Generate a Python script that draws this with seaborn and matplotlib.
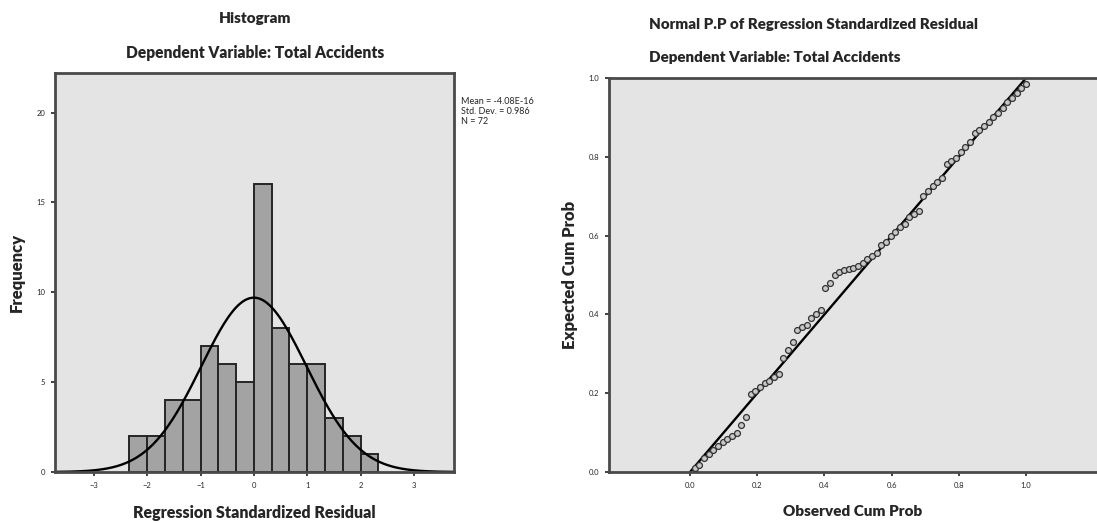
import matplotlib
matplotlib.use("Agg")
import matplotlib.pyplot as plt
import seaborn as sns
import numpy as np

# histogram of regression standardized residuals (bin width 1/3)
bin_edges = [-2.333, -2.0, -1.667, -1.333, -1.0, -0.667, -0.333, 0.0,
             0.333, 0.667, 1.0, 1.333, 1.667, 2.0, 2.333]
bin_counts = [2, 2, 4, 4, 7, 6, 5, 16, 8, 6, 6, 3, 2, 1]
resid_mean = -4.08e-16
resid_sd = 0.986
n_obs = 72

# normal P-P plot points
observed_cum = [0.014, 0.028, 0.042, 0.056, 0.069, 0.083, 0.097, 0.111, 0.125,
                0.139, 0.153, 0.167, 0.181, 0.194, 0.208, 0.222, 0.236, 0.250,
                0.264, 0.278, 0.292, 0.306, 0.319, 0.333, 0.347, 0.361, 0.375,
                0.389, 0.403, 0.417, 0.431, 0.444, 0.458, 0.472, 0.486, 0.500,
                0.514, 0.528, 0.542, 0.556, 0.569, 0.583, 0.597, 0.611, 0.625,
                0.639, 0.653, 0.667, 0.681, 0.694, 0.708, 0.722, 0.736, 0.750,
                0.764, 0.778, 0.792, 0.806, 0.819, 0.833, 0.847, 0.861, 0.875,
                0.889, 0.903, 0.917, 0.931, 0.944, 0.958, 0.972, 0.986, 1.000]
expected_cum = [0.010, 0.018, 0.035, 0.045, 0.055, 0.065, 0.075, 0.085, 0.092,
                0.100, 0.120, 0.140, 0.198, 0.205, 0.215, 0.225, 0.232, 0.240,
                0.250, 0.290, 0.310, 0.330, 0.360, 0.368, 0.372, 0.390, 0.400,
                0.410, 0.468, 0.480, 0.500, 0.508, 0.512, 0.515, 0.518, 0.522,
                0.530, 0.540, 0.548, 0.555, 0.575, 0.585, 0.598, 0.610, 0.622,
                0.630, 0.648, 0.655, 0.662, 0.700, 0.712, 0.725, 0.735, 0.745,
                0.782, 0.790, 0.798, 0.812, 0.825, 0.838, 0.860, 0.868, 0.878,
                0.888, 0.900, 0.912, 0.925, 0.938, 0.950, 0.962, 0.975, 0.985]
ref_line = [0.0, 1.0]

sns.set_theme(style="ticks")
plt.rcParams["font.family"] = ["Lato", "DejaVu Sans"]

fig = plt.figure(figsize=(10.97, 5.23), dpi=100)
ax1 = fig.add_axes([0.0501, 0.0975, 0.3637, 0.7629])
ax2 = fig.add_axes([0.5552, 0.0975, 0.4448, 0.7534])

panel_bg = "#e4e4e4"
spine_col = "#4a4a4a"
bold = dict(fontweight="heavy")

# ---- left: histogram with normal curve
centers = [(a + b) / 2 for a, b in zip(bin_edges[:-1], bin_edges[1:])]
sns.histplot(x=centers, weights=bin_counts, bins=bin_edges, ax=ax1,
             color="#a3a3a3", edgecolor="#252525", linewidth=1.4, alpha=1)

width = bin_edges[1] - bin_edges[0]
xs = np.linspace(-3.75, 3.75, 300)
ys = n_obs * width / (resid_sd * np.sqrt(2 * np.pi)) * np.exp(-0.5 * ((xs - resid_mean) / resid_sd) ** 2)
sns.lineplot(x=xs, y=ys, ax=ax1, color="black", linewidth=1.7)

ax1.set_xlim(-3.73, 3.75)
ax1.set_ylim(0, 22.2)
ax1.set_xticks([-3, -2, -1, 0, 1, 2, 3])
ax1.set_yticks([0, 5, 10, 15, 20])
ax1.set_xlabel("Regression Standardized Residual", fontsize=11.5, labelpad=12, **bold)
ax1.set_ylabel("Frequency", fontsize=12, labelpad=8, **bold)

# ---- right: normal P-P plot
sns.lineplot(x=ref_line, y=ref_line, ax=ax2, color="black", linewidth=1.7)
sns.scatterplot(x=observed_cum, y=expected_cum, ax=ax2, marker="o", s=18,
                facecolor="#c8c8c8", edgecolor="#333333", linewidth=0.9, zorder=3)
ax2.set_xlim(-0.241, 1.211)
ax2.set_ylim(0, 1)
ax2.set_xticks([0.0, 0.2, 0.4, 0.6, 0.8, 1.0])
ax2.set_yticks([0.0, 0.2, 0.4, 0.6, 0.8, 1.0])
ax2.set_xticklabels(["0.0", "0.2", "0.4", "0.6", "0.8", "1.0"])
ax2.set_yticklabels(["0.0", "0.2", "0.4", "0.6", "0.8", "1.0"])
ax2.set_xlabel("Observed Cum Prob", fontsize=11, labelpad=12, **bold)
ax2.set_ylabel("Expected Cum Prob", fontsize=12, labelpad=8, **bold)
ax2.spines["right"].set_visible(False)

for ax in (ax1, ax2):
    ax.set_facecolor(panel_bg)
    for s in ax.spines.values():
        s.set_color(spine_col)
        s.set_linewidth(2)
    ax.tick_params(labelsize=5.5, length=3, width=1.2, color="#222222", pad=4)

# titles and stats box
fig.text(0.233, 0.965, "Histogram", ha="center", va="center", fontsize=11, **bold)
fig.text(0.233, 0.898, "Dependent Variable: Total Accidents", ha="center", va="center",
         fontsize=11.2, **bold)
fig.text(0.592, 0.953, "Normal P.P of Regression Standardized Residual", ha="left", va="center",
         fontsize=10.9, **bold)
fig.text(0.592, 0.890, "Dependent Variable: Total Accidents", ha="left", va="center",
         fontsize=10.9, **bold)
fig.text(0.420, 0.786, "Mean = -4.08E-16\nStd. Dev. = 0.986\nN = 72", ha="left", va="center",
         fontsize=6.5, linespacing=1.15)

fig.savefig("out.png", dpi=100)
